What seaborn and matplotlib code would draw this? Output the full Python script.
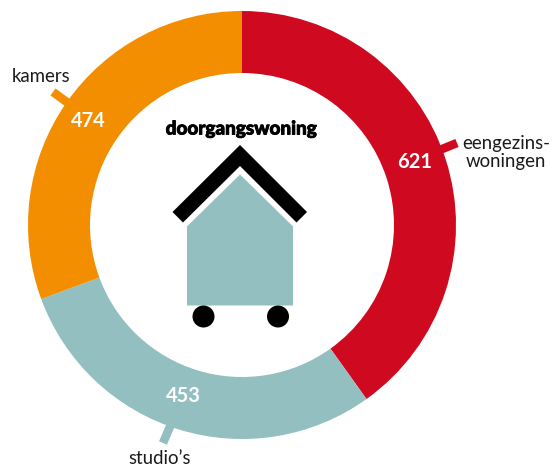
import matplotlib
matplotlib.use("Agg")
import matplotlib.pyplot as plt
import matplotlib.patheffects as pe
from matplotlib.patches import Polygon, Circle
import seaborn as sns

categories = ["eengezins-\nwoningen", "studio's", "kamers"]
values = [621, 453, 474]
value_labels = ["621", "453", "474"]
title = "doorgangswoning"
colors = ["#cf0a20", "#94bfc0", "#f28e00"]

W, H = 559, 467
sns.set_theme(style="white")
plt.rcParams["font.family"] = ["Lato", "DejaVu Sans"]

fig = plt.figure(figsize=(W / 100, H / 100), dpi=100, facecolor="white")
ax = fig.add_axes([0, 0, 1, 1])
Y = lambda y: H - y

# leader ticks first, under the ring
ticks = [((436, 151.5), (457, 143), colors[0]),
         ((163, 443), (175, 415), colors[1]),
         ((53, 92), (75, 108), colors[2])]
for a, b, c in ticks:
    ax.plot([a[0], b[0]], [Y(a[1]), Y(b[1])], color=c, lw=6.2, solid_capstyle="butt", zorder=1)

ax.pie(values, colors=colors, startangle=90, counterclock=False,
       center=(242, Y(225)), radius=214, frame=True,
       wedgeprops=dict(width=62, linewidth=0, zorder=2))
ax.set_xlim(0, W)
ax.set_ylim(0, H)
ax.set_aspect("equal")
ax.axis("off")

# house icon
ax.add_patch(Polygon([(x, Y(y)) for x, y in [(187, 226.5), (240, 174.5), (293, 226.5), (293, 305.5), (187, 305.5)]],
                     closed=True, fc=colors[1], ec="none", zorder=3))
ax.add_patch(Polygon([(x, Y(y)) for x, y in [(172.5, 212), (240, 145), (307, 212), (296.5, 222.5), (240, 166), (183, 222.5)]],
                     closed=True, fc="black", ec="none", zorder=3))
for cx in (203.5, 278):
    ax.add_patch(Circle((cx, Y(316.5)), 11, fc="black", ec="none", zorder=3))

ax.text(241.5, Y(129), title, ha="center", va="center", fontsize=13.6, fontweight="black", color="black", zorder=4,
        path_effects=[pe.withStroke(linewidth=0.6, foreground="black")])

# value labels
for (x, y), t in zip([(415, 162), (183.5, 396), (88, 121)], value_labels):
    ax.text(x, Y(y), t, ha="center", va="center", fontsize=14.5, fontweight="bold", color="white", zorder=4)

# category labels
lab = dict(ha="center", va="center", fontsize=13.4, color="#1a1a1a", zorder=4)
ax.text(506, Y(143.5), "eengezins-", **lab)
ax.text(506, Y(161), "woningen", **lab)
ax.text(41.5, Y(76), categories[2], **lab)
ax.text(160, Y(459), "studio\u2019s", **lab)

fig.savefig("out.png", dpi=100, facecolor="white")
